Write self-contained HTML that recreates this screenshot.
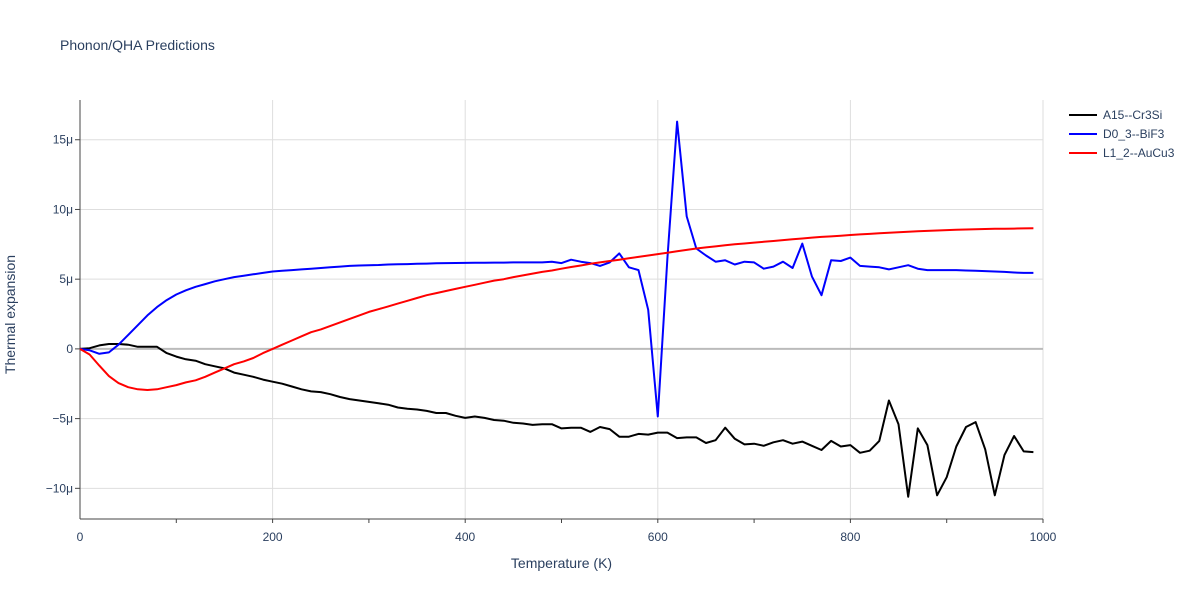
<!DOCTYPE html>
<html><head><meta charset="utf-8"><style>
body{margin:0;background:#fff;font-family:"Liberation Sans",Arial,sans-serif}
svg text{font-family:"Liberation Sans",Arial,sans-serif}
</style></head><body>
<svg id="chart" width="1200" height="600" viewBox="0 0 1200 600" xmlns="http://www.w3.org/2000/svg">
<rect width="1200" height="600" fill="#fff"/>
<text x="60" y="50" font-size="14" fill="#2a3f5f">Phonon/QHA Predictions</text>
<g id="grid"></g><g id="axes"></g><g id="series"></g><g id="legend"></g>
</svg>
<script>
const temps = [];
for (let t = 0; t < 1000; t += 10) temps.push(t);
const a15 = [0,0.05,0.25,0.35,0.35,0.3,0.15,0.15,0.15,-0.3,-0.55,-0.75,-0.85,-1.1,-1.25,-1.4,-1.7,-1.85,-2.0,-2.2,-2.35,-2.5,-2.7,-2.9,-3.05,-3.1,-3.25,-3.45,-3.6,-3.7,-3.8,-3.9,-4.0,-4.2,-4.3,-4.35,-4.45,-4.6,-4.6,-4.8,-4.95,-4.85,-4.95,-5.1,-5.15,-5.3,-5.35,-5.45,-5.4,-5.4,-5.7,-5.65,-5.65,-5.95,-5.6,-5.75,-6.3,-6.3,-6.1,-6.15,-6.0,-6.0,-6.4,-6.35,-6.35,-6.75,-6.55,-5.65,-6.45,-6.85,-6.8,-6.95,-6.7,-6.55,-6.8,-6.65,-6.95,-7.25,-6.6,-7.0,-6.9,-7.45,-7.3,-6.6,-3.7,-5.4,-10.6,-5.7,-6.9,-10.5,-9.2,-7.0,-5.6,-5.25,-7.2,-10.5,-7.6,-6.25,-7.35,-7.4];
const bif3 = [0,-0.1,-0.35,-0.25,0.3,1.0,1.7,2.4,3.0,3.5,3.9,4.2,4.45,4.65,4.85,5.0,5.15,5.25,5.35,5.45,5.55,5.6,5.65,5.7,5.75,5.8,5.85,5.9,5.95,5.98,6.0,6.02,6.05,6.07,6.08,6.1,6.12,6.14,6.15,6.16,6.17,6.18,6.18,6.19,6.19,6.2,6.2,6.2,6.2,6.25,6.15,6.4,6.25,6.15,5.95,6.2,6.85,5.85,5.65,2.8,-4.85,6.5,16.3,9.5,7.2,6.7,6.25,6.35,6.05,6.25,6.2,5.75,5.9,6.25,5.8,7.55,5.2,3.85,6.35,6.3,6.55,5.95,5.9,5.85,5.7,5.85,6.0,5.75,5.65,5.65,5.65,5.65,5.62,5.6,5.58,5.55,5.52,5.48,5.45,5.45];
const aucu3 = [0,-0.4,-1.2,-1.95,-2.45,-2.75,-2.9,-2.95,-2.9,-2.75,-2.6,-2.4,-2.25,-2.0,-1.7,-1.4,-1.1,-0.9,-0.65,-0.3,0,0.3,0.6,0.9,1.2,1.4,1.65,1.9,2.15,2.4,2.65,2.85,3.05,3.25,3.45,3.65,3.85,4.0,4.15,4.3,4.45,4.6,4.75,4.9,5.0,5.15,5.27,5.4,5.52,5.62,5.75,5.87,5.98,6.1,6.2,6.3,6.4,6.5,6.6,6.7,6.8,6.9,7.0,7.1,7.2,7.28,7.35,7.43,7.5,7.56,7.62,7.68,7.74,7.8,7.86,7.92,7.98,8.03,8.07,8.12,8.17,8.21,8.25,8.29,8.33,8.37,8.4,8.43,8.46,8.49,8.52,8.54,8.56,8.58,8.6,8.61,8.62,8.63,8.64,8.65];
const xTicks = [0,200,400,600,800,1000];
const yTicks = [-10,-5,0,5,10,15];
const yTickLabels = ["−10μ","−5μ","0","5μ","10μ","15μ"];
const seriesNames = ["A15--Cr3Si","D0_3--BiF3","L1_2--AuCu3"];
const seriesColors = ["#000000","#0000ff","#ff0000"];

const NS = "http://www.w3.org/2000/svg";
const TXT = "#2a3f5f";
const L = 80, R = 1043, T = 100, B = 519;
const xMin = 0, xMax = 1000, yMin = -12.2, yMax = 17.85;
const xs = v => L + (v - xMin) / (xMax - xMin) * (R - L);
const ys = v => B - (v - yMin) / (yMax - yMin) * (B - T);
function mk(tag, attrs, parent) {
  const e = document.createElementNS(NS, tag);
  for (const k in attrs) e.setAttribute(k, attrs[k]);
  parent.appendChild(e); return e;
}
const grid = document.getElementById('grid'), axes = document.getElementById('axes'),
      ser = document.getElementById('series'), leg = document.getElementById('legend');

xTicks.forEach(v => {
  if (v > 0) {
    const g = mk('line', {x1: xs(v), x2: xs(v), y1: T, y2: B, stroke: '#dedede', 'stroke-width': 1}, grid);
    
    
  }
  const t = mk('text', {x: xs(v), y: 541, 'font-size': 12, fill: TXT, 'text-anchor': 'middle'}, axes);
  t.textContent = v;
  
  
});
for (let v = 100; v <= 1000; v += 100) {
  mk('line', {x1: xs(v), x2: xs(v), y1: B, y2: B + 4, stroke: '#444', 'stroke-width': 1}, axes);
}
yTicks.forEach((v, i) => {
  const g = mk('line', {x1: L, x2: R, y1: ys(v), y2: ys(v), stroke: v === 0 ? '#bbbbbb' : '#dedede', 'stroke-width': v === 0 ? 2 : 1}, grid);
  
  
  mk('line', {x1: L - 5, x2: L, y1: ys(v), y2: ys(v), stroke: '#444', 'stroke-width': 1}, axes);
  const t = mk('text', {x: L - 7, y: ys(v) + 4, 'font-size': 12, fill: TXT, 'text-anchor': 'end'}, axes);
  t.textContent = yTickLabels[i];
  
  
});
const xl = mk('line', {x1: L, x2: R, y1: B, y2: B, stroke: '#444', 'stroke-width': 1}, axes);


const yl = mk('line', {x1: L, x2: L, y1: T, y2: B, stroke: '#444', 'stroke-width': 1}, axes);


const xt = mk('text', {x: (L + R) / 2, y: 568, 'font-size': 14, fill: TXT, 'text-anchor': 'middle'}, axes);
xt.textContent = 'Temperature (K)';


const yt = mk('text', {x: 15, y: (T + B) / 2 + 5, 'font-size': 14, fill: TXT, 'text-anchor': 'middle', transform: 'rotate(-90 15 ' + ((T + B) / 2 + 5) + ')'}, axes);
yt.textContent = 'Thermal expansion';



[a15, bif3, aucu3].forEach((vals, si) => {
  const pts = vals.map((v, i) => xs(temps[i]).toFixed(1) + ',' + ys(v).toFixed(1)).join(' ');
  const p = mk('polyline', {points: pts, fill: 'none', stroke: seriesColors[si], 'stroke-width': 2, 'stroke-linejoin': 'round'}, ser);
  
  
  const ly = 115 + si * 19;
  const g = mk('g', {}, leg);
  
  
  mk('line', {x1: 1069, x2: 1097, y1: ly, y2: ly, stroke: seriesColors[si], 'stroke-width': 2}, g);
  const t = mk('text', {x: 1103, y: ly + 4, 'font-size': 12, fill: TXT}, g);
  t.textContent = seriesNames[si];
});
</script>
</body></html>
